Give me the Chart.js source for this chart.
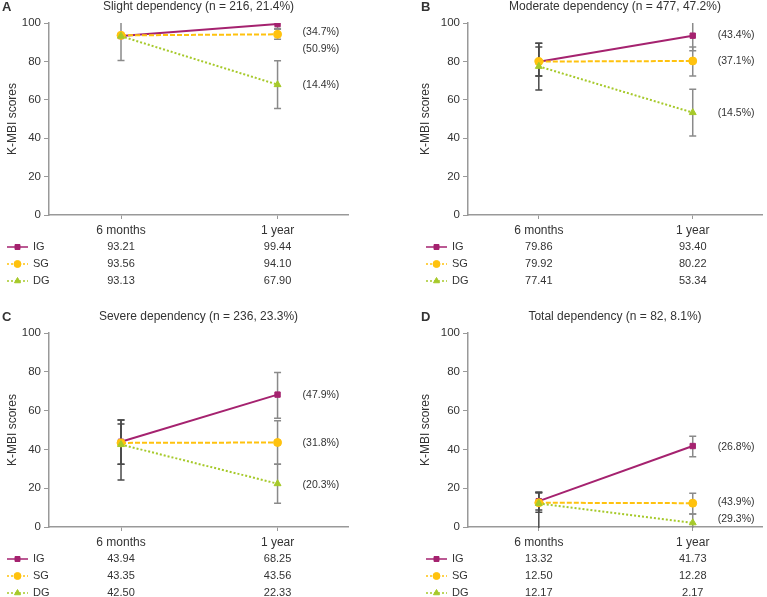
<!DOCTYPE html>
<html>
<head>
<meta charset="utf-8">
<script src="https://cdn.jsdelivr.net/npm/chart.js@4.4.0/dist/chart.umd.min.js"></script>
<style>
body{margin:0;background:#fff;}
.panel{position:absolute;}
</style>
</head>
<body>
<div class="panel" style="left:0;top:0;width:383px;height:298px"><canvas id="chartA"></canvas></div>
<div class="panel" style="left:383px;top:0;width:384px;height:298px"><canvas id="chartB"></canvas></div>
<div class="panel" style="left:0;top:298px;width:383px;height:299px"><canvas id="chartC"></canvas></div>
<div class="panel" style="left:383px;top:298px;width:384px;height:299px"><canvas id="chartD"></canvas></div>
<script>
var months=["6 months","1 year"];
var groups=["IG","SG","DG"];

// mean K-MBI scores, [6 months, 1 year]
var slightIG=[93.21,99.44], slightSG=[93.56,94.10], slightDG=[93.13,67.90];
var moderateIG=[79.86,93.40], moderateSG=[79.92,80.22], moderateDG=[77.41,53.34];
var severeIG=[43.94,68.25], severeSG=[43.35,43.56], severeDG=[42.50,22.33];
var totalIG=[13.32,41.73], totalSG=[12.50,12.28], totalDG=[12.17,2.17];

// error bar ends, per group [6 months, 1 year]
var slightLow=[[null,97.2],[null,91.5],[80.5,55.5]];
var slightHigh=[[null,101.7],[null,96.7],[105.8,80.3]];
var moderateLow=[[72.4,85.6],[72.4,72.4],[65.1,41.1]];
var moderateHigh=[[89.4,101.2],[87.5,87.5],[89.4,65.5]];
var severeLow=[[32.3,56.0],[32.3,32.3],[24.2,12.2]];
var severeHigh=[[55.2,79.7],[53.1,54.8],[55.2,32.4]];
var totalLow=[[8.7,36.2],[7.6,6.7],[-3,-3]];
var totalHigh=[[17.9,46.8],[17.5,17.4],[17.9,6.7]];

// share of each group at 1 year
var slightPct=["(34.7%)","(50.9%)","(14.4%)"];
var moderatePct=["(43.4%)","(37.1%)","(14.5%)"];
var severePct=["(47.9%)","(31.8%)","(20.3%)"];
var totalPct=["(26.8%)","(43.9%)","(29.3%)"];
// where the percent labels sit, in score units
var slightPctY=[95.3,86.5,67.7];
var moderatePctY=[93.8,80.2,53.1];
var severePctY=[68.0,43.3,21.6];
var totalPctY=[41.2,12.9,4.1];

var colors=["#a5226f","#ffc20e","#a6c92a"];
var styles=["rect","circle","triangle"];
var dashes=[[],[5,2],[2,2]];
var font="'Liberation Sans', Arial, sans-serif";
var textColor="#333";

var panelPlugin={
    id:"panelExtras",
    beforeDatasetsDraw:function(chart){
        var p=chart.options.plugins.panelExtras;
        var ctx=chart.ctx, xs=chart.scales.x, ys=chart.scales.y, a=chart.chartArea;
        ctx.save();
        ctx.beginPath();
        ctx.rect(a.left,a.top,a.right-a.left,a.bottom-a.top+1);
        ctx.clip();
        ctx.lineWidth=1.5;
        for(var g=0;g<3;g++){
            for(var m=0;m<2;m++){
                if(p.low[g][m]==null) continue;
                var x=xs.getPixelForValue(m);
                var y1=ys.getPixelForValue(p.low[g][m]);
                var y2=ys.getPixelForValue(p.high[g][m]);
                ctx.strokeStyle=(m==0 && p.darkFirst)?"#4a4a4a":"#8a8a8a";
                ctx.beginPath();
                ctx.moveTo(x,y1);ctx.lineTo(x,y2);
                ctx.moveTo(x-3.5,y1);ctx.lineTo(x+3.5,y1);
                ctx.moveTo(x-3.5,y2);ctx.lineTo(x+3.5,y2);
                ctx.stroke();
            }
        }
        ctx.restore();
    },
    afterDraw:function(chart){
        var p=chart.options.plugins.panelExtras;
        var ctx=chart.ctx, xs=chart.scales.x, ys=chart.scales.y, a=chart.chartArea;
        ctx.save();
        ctx.fillStyle=textColor;
        ctx.textBaseline="middle";
        // panel letter and title
        ctx.font="bold 13px "+font;
        ctx.textAlign="left";
        ctx.fillText(p.letter,a.left-47,a.top-16);
        ctx.font="12px "+font;
        ctx.textAlign="center";
        ctx.fillText(p.title,(a.left+a.right)/2,a.top-16);
        // percent labels next to the 1 year points
        ctx.font="10.5px "+font;
        ctx.textAlign="left";
        for(var g=0;g<3;g++){
            ctx.fillText(p.pct[g],xs.getPixelForValue(1)+25,ys.getPixelForValue(p.pctY[g]));
        }
        // legend table under the axis
        var rowOffsets=[32,49,66];
        for(var g=0;g<3;g++){
            var y=a.bottom+rowOffsets[g];
            ctx.save();
            ctx.strokeStyle=colors[g];
            ctx.lineWidth=1.5;
            ctx.setLineDash(g==0?[]:[2,2]);
            ctx.beginPath();
            ctx.moveTo(a.left-42,y);ctx.lineTo(a.left-21,y);
            ctx.stroke();
            ctx.restore();
            ctx.fillStyle=colors[g];
            ctx.strokeStyle=colors[g];
            ctx.lineWidth=1;
            Chart.helpers.drawPoint(ctx,{pointStyle:styles[g],rotation:0,radius:3.5,borderWidth:1},a.left-31.5,y);
            ctx.fillStyle=textColor;
            ctx.font="11px "+font;
            ctx.textAlign="left";
            ctx.fillText(groups[g],a.left-16,y);
            ctx.textAlign="center";
            for(var m=0;m<2;m++){
                ctx.fillText(p.values[g][m].toFixed(2),xs.getPixelForValue(m),y);
            }
        }
        ctx.restore();
    }
};

function makePanel(id,letter,title,values,low,high,pct,pctY,geo){
    var datasets=[];
    for(var g=0;g<3;g++){
        datasets.push({
            label:groups[g],
            data:values[g].map(function(v,i){return {x:i,y:v};}),
            borderColor:colors[g],
            backgroundColor:colors[g],
            pointStyle:styles[g],
            pointRadius:g==0?3.8:4,
            pointBorderWidth:1,
            borderWidth:2,
            borderDash:dashes[g],
            order:3-g
        });
    }
    return new Chart(document.getElementById(id),{
        type:"line",
        data:{datasets:datasets},
        plugins:[panelPlugin],
        options:{
            responsive:true,
            maintainAspectRatio:false,
            animation:false,
            layout:{padding:{left:geo.padLeft,top:geo.padTop,right:geo.padRight,bottom:0}},
            plugins:{
                legend:{display:false},
                tooltip:{enabled:false},
                panelExtras:{letter:letter,title:title,values:values,low:low,high:high,pct:pct,pctY:pctY,darkFirst:geo.darkFirst}
            },
            scales:{
                x:{
                    type:"linear",
                    min:-0.46,
                    max:1.45,
                    afterBuildTicks:function(s){s.ticks=[{value:0},{value:1}];},
                    afterFit:function(s){s.height=geo.xHeight;},
                    ticks:{
                        callback:function(v){return months[v];},
                        color:textColor,
                        font:{family:font,size:12},
                        padding:4,
                        maxRotation:0
                    },
                    grid:{display:true,drawOnChartArea:false,drawTicks:true,tickLength:4,color:"#999"},
                    border:{color:"#999",width:1.5}
                },
                y:{
                    min:0,
                    max:100,
                    afterFit:function(s){s.width=geo.yWidth;},
                    ticks:{stepSize:20,color:textColor,font:{family:font,size:11.5},padding:3},
                    grid:{display:true,drawOnChartArea:false,drawTicks:true,tickLength:5,color:"#999"},
                    border:{color:"#999",width:1.5},
                    title:{display:true,text:"K-MBI scores",color:textColor,font:{family:font,size:12},padding:{top:5,bottom:0}}
                }
            }
        }
    });
}

makePanel("chartA","A","Slight dependency (n = 216, 21.4%)",[slightIG,slightSG,slightDG],slightLow,slightHigh,slightPct,slightPctY,
    {padLeft:0,yWidth:49,padTop:23,padRight:35,xHeight:83,darkFirst:false});
makePanel("chartB","B","Moderate dependency (n = 477, 47.2%)",[moderateIG,moderateSG,moderateDG],moderateLow,moderateHigh,moderatePct,moderatePctY,
    {padLeft:30,yWidth:55,padTop:23,padRight:1,xHeight:83,darkFirst:true});
makePanel("chartC","C","Severe dependency (n = 236, 23.3%)",[severeIG,severeSG,severeDG],severeLow,severeHigh,severePct,severePctY,
    {padLeft:0,yWidth:49,padTop:35,padRight:35,xHeight:70,darkFirst:true});
makePanel("chartD","D","Total dependency (n = 82, 8.1%)",[totalIG,totalSG,totalDG],totalLow,totalHigh,totalPct,totalPctY,
    {padLeft:30,yWidth:55,padTop:35,padRight:1,xHeight:70,darkFirst:true});
</script>
</body>
</html>
